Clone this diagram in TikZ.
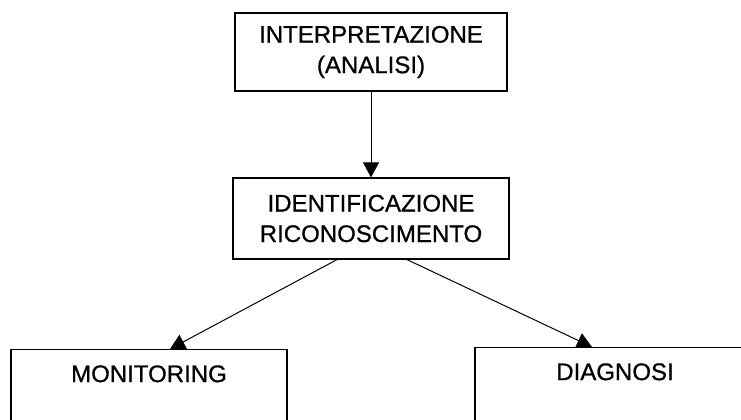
\documentclass[tikz,border=0pt]{standalone}
\usepackage{fontspec}
\setmainfont[FakeBold=0.8]{Liberation Sans}
\usetikzlibrary{arrows.meta,positioning,calc}
\definecolor{ink}{HTML}{000000}
\tikzset{stagebox/.style={draw=ink,line width=1pt,fill=white,align=center,inner sep=0pt,font=\fontsize{20.5}{26}\selectfont},
 leafbox/.style={stagebox,anchor=north,minimum width=8.28cm,text height=0.975cm,text depth=3cm},
 flowline/.style={draw=ink,line width=.85pt,-{Triangle[length=4.5mm,width=4.8mm]}}}

\begin{document}
\begin{tikzpicture}[x=0.03cm,y=-0.03cm]
\useasboundingbox (0,0) rectangle (741,419);
\node[stagebox,minimum width=8.16cm,minimum height=2.34cm] (interp) at (371,52) {INTERPRETAZIONE\\(ANALISI)};
\node[stagebox,minimum width=8.28cm,minimum height=2.43cm] (ident) at (371,218.5) {IDENTIFICAZIONE\\RICONOSCIMENTO};
\node[leafbox] (monit) at (149,349) {MONITORING};
\node[leafbox,minimum width=8.4cm] (diagn) at (615,347) {DIAGNOSI};
\draw[flowline] (interp.south) -- (ident.north);
\draw[flowline] ([xshift=-1.02cm]ident.south) -- ([xshift=.63cm]monit.north);
\draw[flowline] ([xshift=1.08cm]ident.south) -- ([xshift=-.69cm]diagn.north);
\end{tikzpicture}
\end{document}
